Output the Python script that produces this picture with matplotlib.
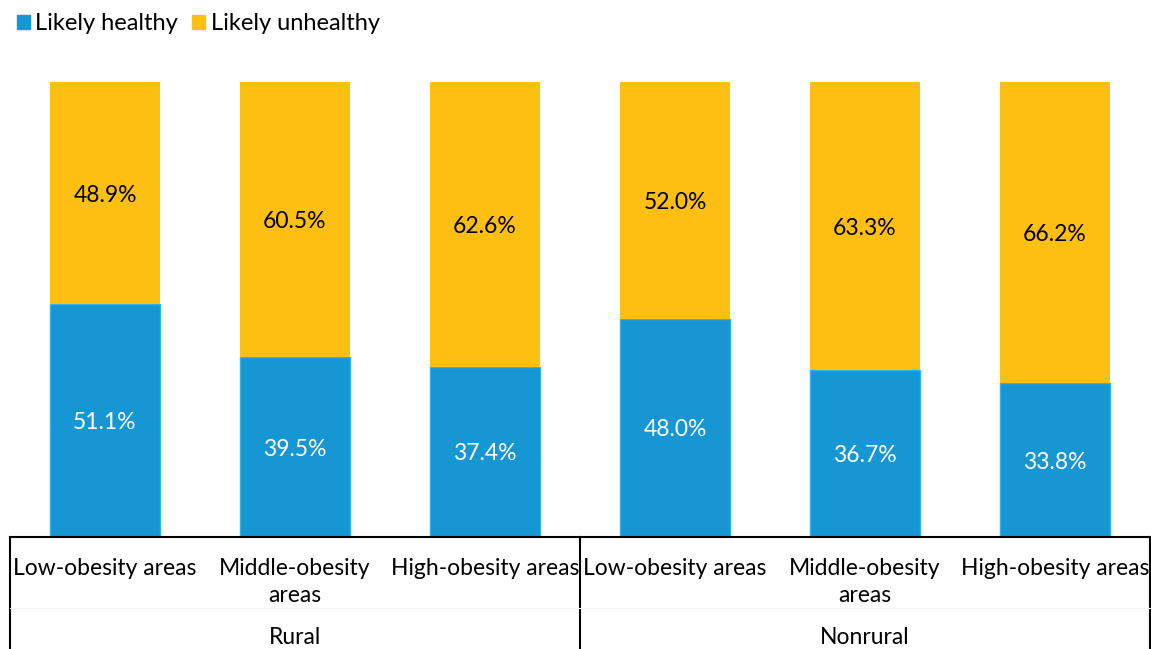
import numpy as np
import matplotlib.pyplot as plt
from matplotlib.patches import Patch
from matplotlib.transforms import blended_transform_factory

plt.rcParams['font.family'] = ['Lato', 'DejaVu Sans']

# datos
areas = ["Low-obesity areas", "Middle-obesity\nareas", "High-obesity areas",
         "Low-obesity areas", "Middle-obesity\nareas", "High-obesity areas"]
grupos = ["Rural", "Nonrural"]
sanos = [51.1, 39.5, 37.4, 48.0, 36.7, 33.8]
no_sanos = [48.9, 60.5, 62.6, 52.0, 63.3, 66.2]

azul = "#1696D2"
amarillo = "#FDBF11"

fig = plt.figure(figsize=(11.51, 6.49), dpi=100)
ax = fig.add_axes([10/1151, (649-537)/649, 1140/1151, (537-82)/649])

x = np.arange(len(areas))
ax.bar(x, sanos, width=0.58, color=azul, edgecolor="#2CB3F0", linewidth=1)
ax.bar(x, no_sanos, width=0.58, bottom=sanos, color=amarillo, edgecolor=amarillo, linewidth=0)

for i in range(len(x)):
    ax.text(x[i], sanos[i]/2, "%.1f%%" % sanos[i], ha="center", va="center_baseline",
            color="white", fontsize=16.5)
    ax.text(x[i], sanos[i] + no_sanos[i]/2, "%.1f%%" % no_sanos[i], ha="center",
            va="center_baseline", color="black", fontsize=16.5)

ax.set_xlim(-0.5, 5.5)
ax.set_ylim(0, 100)
ax.set_yticks([])
ax.set_xticks([])
for s in ["top", "right", "left"]:
    ax.spines[s].set_visible(False)
ax.spines["bottom"].set_linewidth(1.5)

# etiquetas de categorias en dos niveles
tr = blended_transform_factory(ax.transData, ax.transAxes)
ax_h = 537 - 82
def ypix(p):
    return -(p - 537) / ax_h

for i in range(len(x)):
    ax.text(x[i], ypix(558), areas[i], ha="center", va="top", fontsize=16.5,
            transform=tr, linespacing=1.38)
for j, g in enumerate(grupos):
    ax.text(3*j + 1, ypix(637), g, ha="center", va="center", fontsize=16.5, transform=tr)

for xv in [-0.5, 2.5, 5.5]:
    ax.plot([xv, xv], [0, ypix(660)], color="black", lw=1.5, transform=tr, clip_on=False)
ax.plot([-0.5, 5.5], [ypix(608), ypix(608)], color="#f4f4f4", lw=0.8, transform=tr, clip_on=False)

handles = [Patch(color=azul, label="Likely healthy"), Patch(color=amarillo, label="Likely unhealthy")]
fig.legend(handles=handles, loc="upper left", bbox_to_anchor=(-0.002, 1.009), ncol=2, frameon=False,
           fontsize=17, handlelength=0.55, handleheight=0.55, handletextpad=0.25, columnspacing=0.6,
           borderaxespad=0.4)

fig.savefig("out.png", dpi=100)
